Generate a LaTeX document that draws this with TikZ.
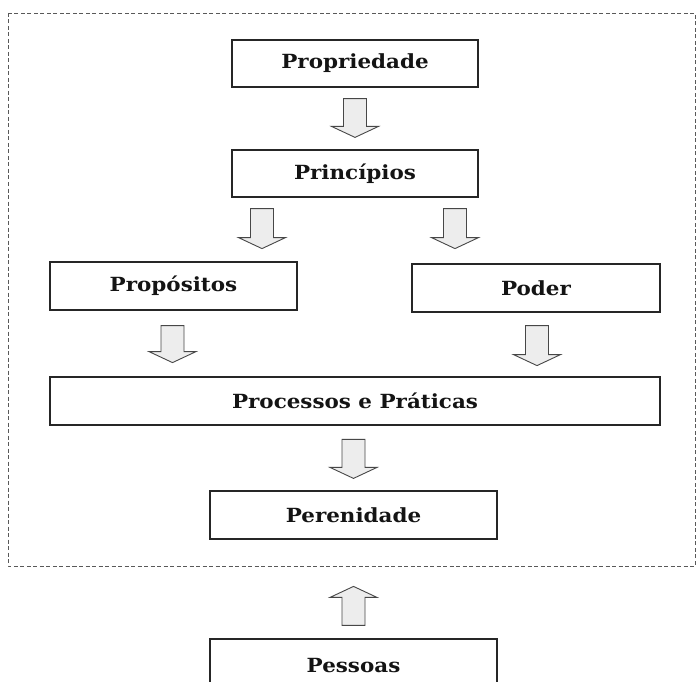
\documentclass[tikz,border=0pt]{standalone}
\usepackage{fontspec}
\newfontfamily\boxfont[FakeStretch=1.1]{DejaVu Serif}
\usetikzlibrary{calc}

\tikzset{
  stage/.style={draw=black!85, line width=1.2pt, fill=white, inner sep=0pt,
    font=\boxfont\bfseries\fontsize{19.5}{22}\selectfont, text=black!92},
  flowarr/.style={draw=black!72, line width=0.9pt, fill=gray!14, line join=miter},
  frame/.style={draw=black!65, line width=0.9pt, dash pattern=on 4pt off 2.5pt}
}

% hollow block arrow from #1 (tail) to #2 (tip)
\newcommand{\flowarrow}[2]{%
  \coordinate (fa-s) at (#1);
  \coordinate (fa-t) at (#2);
  \coordinate (fa-h) at ($(fa-t)!11pt!(fa-s)$);
  \filldraw[flowarr]
    ($(fa-s)!11.5pt!90:(fa-t)$) -- ($(fa-h)!11.5pt!-90:(fa-s)$)
    -- ($(fa-h)!23.5pt!-90:(fa-s)$) -- (fa-t)
    -- ($(fa-h)!23.5pt!90:(fa-s)$) -- ($(fa-h)!11.5pt!90:(fa-s)$)
    -- ($(fa-s)!11.5pt!-90:(fa-t)$) -- cycle;
}

\begin{document}
\begin{tikzpicture}[x=1pt, y=-1pt]
  \useasboundingbox (0,0) rectangle (696,682);
  \clip (0,0) rectangle (696,682);
  \fill[white] (0,0) rectangle (696,682);

  % dashed enclosure
  \draw[frame] (8,13) rectangle (695,566);

  % stages
  \node[stage, minimum width=246pt, minimum height=47pt] (propr) at (355,63.5) {Propriedade};
  \node[stage, minimum width=246pt, minimum height=47pt] (princ) at (355,173.5) {Princípios};
  \node[stage, minimum width=247pt, minimum height=48pt] (propo) at (173.5,286) {Propósitos};
  \node[stage, minimum width=248pt, minimum height=48pt] (poder) at (536,288) {Poder};
  \node[stage, minimum width=610pt, minimum height=48pt] (proc) at (355,401) {Processos e Práticas};
  \node[stage, minimum width=287pt, minimum height=48pt] (peren) at (353.5,515) {Perenidade};
  \node[stage, minimum width=287pt, minimum height=52pt, text depth=0pt] (pess) at (353.5,665) {Pessoas};

  % block arrows
  \flowarrow{[yshift=-11pt]propr.south}{[yshift=12pt]princ.north}
  \flowarrow{[xshift=-93pt,yshift=-11pt]princ.south}{[xshift=-93pt,yshift=-51pt]princ.south}
  \flowarrow{[xshift=100pt,yshift=-11pt]princ.south}{[xshift=100pt,yshift=-51pt]princ.south}
  \flowarrow{[xshift=-1pt,yshift=-15pt]propo.south}{[xshift=-1pt,yshift=-52pt]propo.south}
  \flowarrow{[xshift=1pt,yshift=-13pt]poder.south}{[xshift=1pt,yshift=-53pt]poder.south}
  \flowarrow{[yshift=51pt]peren.north}{[yshift=12pt]peren.north}
  \flowarrow{[yshift=13pt]pess.north}{[yshift=52pt]pess.north}
\end{tikzpicture}
\end{document}
